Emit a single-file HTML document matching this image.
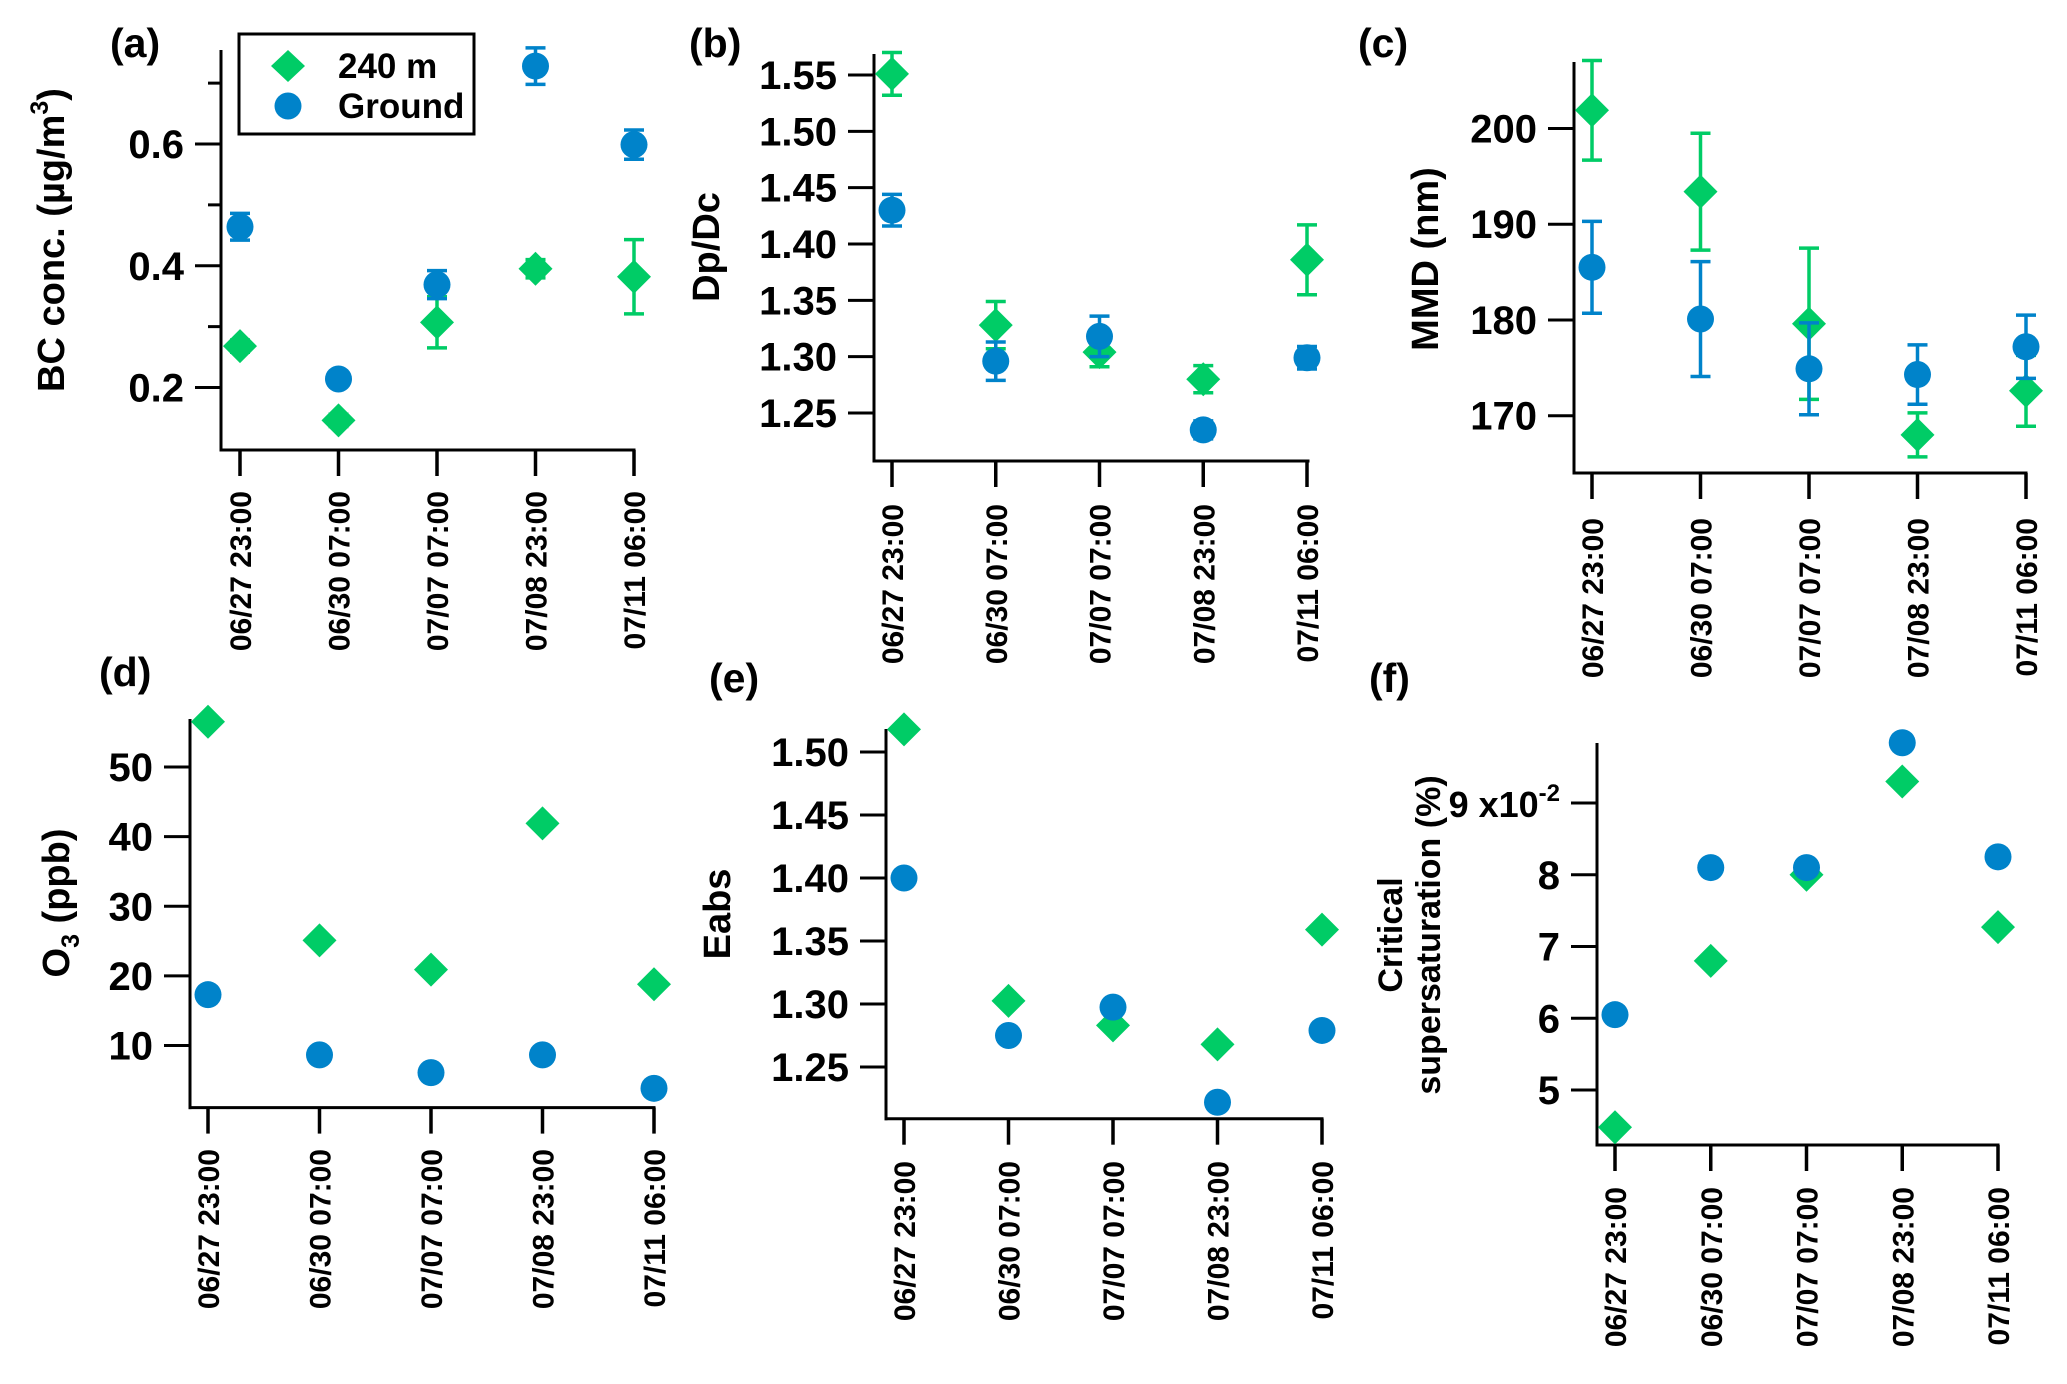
<!DOCTYPE html>
<html><head><meta charset="utf-8"><style>
html,body{margin:0;padding:0;background:#fff;}
svg{display:block;font-family:"Liberation Sans",Arial,sans-serif;font-weight:bold;}
</style></head><body>
<svg id="fig" width="2067" height="1384" viewBox="0 0 2067 1384" xmlns="http://www.w3.org/2000/svg"></svg>
<script>
const categories = ["06/27 23:00","06/30 07:00","07/07 07:00","07/08 23:00","07/11 06:00"];
// (a) BC conc.
const bc240 = [0.268,0.146,0.307,0.395,0.382];
const bc240Err = [0.01,0.01,0.042,0.015,0.061];
const bcGround = [0.464,0.214,0.369,0.728,0.599];
const bcGroundErr = [0.022,0,0.023,0.03,0.024];
const bcTicks = [0.2,0.4,0.6];
const bcMinor = [0.3,0.5,0.7];
// (b) Dp/Dc
const dp240 = [1.551,1.328,1.304,1.280,1.386];
const dp240Err = [0.019,0.021,0.013,0.012,0.031];
const dpGround = [1.430,1.296,1.318,1.235,1.299];
const dpGroundErr = [0.014,0.017,0.018,0.008,0.01];
const dpTicks = [1.25,1.30,1.35,1.40,1.45,1.50,1.55];
// (c) MMD
const mmd240 = [201.9,193.4,179.6,168.0,172.6];
const mmd240Err = [5.2,6.1,7.9,2.3,3.7];
const mmdGround = [185.5,180.1,174.9,174.3,177.2];
const mmdGroundErr = [4.8,6.0,4.8,3.1,3.3];
const mmdTicks = [170,180,190,200];
// (d) O3
const o3240 = [56.5,25.1,20.9,41.9,18.8];
const o3Ground = [17.3,8.65,6.1,8.65,3.85];
const o3Ticks = [10,20,30,40,50];
// (e) Eabs
const eabs240 = [1.518,1.3025,1.283,1.268,1.359];
const eabsGround = [1.400,1.275,1.2975,1.222,1.279];
const eabsTicks = [1.25,1.30,1.35,1.40,1.45,1.50];
// (f) Critical supersaturation (x10^-2)
const ss240 = [4.48,6.8,8.0,9.3,7.27];
const ssGround = [6.05,8.1,8.1,9.84,8.25];
const ssTicks = [5,6,7,8,9];

const NS="http://www.w3.org/2000/svg";
const svg=document.getElementById('fig');
const GREEN="#00CC66", BLUE="#0083CA";
function el(tag,attrs,parent){const e=document.createElementNS(NS,tag);for(const k in attrs)e.setAttribute(k,attrs[k]);(parent||svg).appendChild(e);return e;}

const panels=[
 {id:'a',label:'(a)',lx:110,ly:57,ax:221,ay:450,top:50,right:634,x0:240,x4:634,v0:0.2,p0:387.5,v1:0.6,p1:144,ticks:bcTicks,minor:bcMinor,fmt:v=>v.toFixed(1),
  g:bc240,ge:bc240Err,b:bcGround,be:bcGroundErr,dateTop:491,title:'BC conc. (µg/m',sup:'3',titleX:51,titleY:240},
 {id:'b',label:'(b)',lx:689,ly:57,ax:874,ay:461,top:54,right:1308,x0:892,x4:1307,v0:1.25,p0:413,v1:1.55,p1:75,ticks:dpTicks,minor:[],fmt:v=>v.toFixed(2),
  g:dp240,ge:dp240Err,b:dpGround,be:dpGroundErr,dateTop:504,title:'Dp/Dc',titleX:706,titleY:247},
 {id:'c',label:'(c)',lx:1358,ly:57,ax:1574,ay:473,top:62,right:2026,x0:1592,x4:2026,v0:170,p0:415.7,v1:200,p1:128.5,ticks:mmdTicks,minor:[],fmt:v=>String(v),
  g:mmd240,ge:mmd240Err,b:mmdGround,be:mmdGroundErr,dateTop:518,title:'MMD (nm)',titleX:1425,titleY:259},
 {id:'d',label:'(d)',lx:99,ly:686,ax:190,ay:1107.6,top:719,right:654,x0:208,x4:654,v0:10,p0:1045.5,v1:50,p1:767,ticks:o3Ticks,minor:[],fmt:v=>String(v),
  g:o3240,ge:null,b:o3Ground,be:null,dateTop:1149,title:'O3',titleX:56,titleY:903},
 {id:'e',label:'(e)',lx:709,ly:692,ax:886,ay:1118.7,top:729,right:1322,x0:904,x4:1322,v0:1.25,p0:1067,v1:1.50,p1:752,ticks:eabsTicks,minor:[],fmt:v=>v.toFixed(2),
  g:eabs240,ge:null,b:eabsGround,be:null,dateTop:1161,title:'Eabs',titleX:717,titleY:914},
 {id:'f',label:'(f)',lx:1369,ly:692,ax:1597,ay:1145,top:743,right:1998,x0:1615,x4:1998,v0:5,p0:1090,v1:9,p1:803,ticks:ssTicks,minor:[],fmt:v=>String(v),
  g:ss240,ge:null,b:ssGround,be:null,dateTop:1187,title:'crit',titleX:1390,titleY:935}
];

panels.forEach(p=>{
  const grp=el('g',{});
  
  
  const yS=v=>p.p0+(v-p.v0)*(p.p1-p.p0)/(p.v1-p.v0);
  const xS=i=>p.x0+i*(p.x4-p.x0)/(categories.length-1);
  const pl=el('text',{x:p.lx,y:p.ly,'font-size':41},grp);pl.textContent=p.label;
  
  
  const ya=el('line',{x1:p.ax,y1:p.top,x2:p.ax,y2:p.ay+1.5,stroke:'#000','stroke-width':3},grp);
  
  
  const xa=el('line',{x1:p.ax-1.5,y1:p.ay,x2:p.right+1.5,y2:p.ay,stroke:'#000','stroke-width':3},grp);
  
  
  p.ticks.forEach(v=>{
    const y=yS(v);
    el('line',{x1:p.ax-26,y1:y,x2:p.ax,y2:y,stroke:'#000','stroke-width':3},grp);
    const t=el('text',{x:p.ax-37,y:y+14,'font-size':40,'text-anchor':'end'},grp);
    
    
    if(p.id==='f'&&v===9){t.setAttribute('font-size',36);t.textContent='9 x10';const s=el('tspan',{dy:-16,'font-size':24},t);s.textContent='-2';}
    else t.textContent=p.fmt(v);
  });
  p.minor.forEach(v=>{const y=yS(v);el('line',{x1:p.ax-13,y1:y,x2:p.ax,y2:y,stroke:'#000','stroke-width':3},grp);});
  categories.forEach((c,i)=>{
    const x=xS(i);
    el('line',{x1:x,y1:p.ay,x2:x,y2:p.ay+26,stroke:'#000','stroke-width':3.5},grp);
    const t=el('text',{x:0,y:0,'font-size':30,'text-anchor':'end',transform:`translate(${x+11},${p.dateTop}) rotate(-90)`},grp);
    t.textContent=c;
    
    
  });
  let tt;
  if(p.id==='f'){
    tt=el('text',{'font-size':34,'text-anchor':'middle',transform:`translate(${p.titleX+12},${p.titleY}) rotate(-90)`},grp);tt.textContent='Critical';
    const t2=el('text',{'font-size':34,'text-anchor':'middle',transform:`translate(${p.titleX+50},${p.titleY}) rotate(-90)`},grp);t2.textContent='supersaturation (%)';
    t2.setAttribute('transform',`translate(${1440},${p.titleY}) rotate(-90)`);
    
    
  } else {
    tt=el('text',{'font-size':38,'text-anchor':'middle',transform:`translate(${p.titleX+13},${p.titleY}) rotate(-90)`},grp);
    if(p.id==='d'){tt.textContent='O';const s=el('tspan',{dy:10,'font-size':25},tt);s.textContent='3';const s2=el('tspan',{dy:-10},tt);s2.textContent=' (ppb)';}
    else if(p.sup){tt.textContent=p.title;const s=el('tspan',{dy:-16,'font-size':25},tt);s.textContent=p.sup;const s2=el('tspan',{dy:16},tt);s2.textContent=')';}
    else tt.textContent=p.title;
  }
  
  
  function errbar(x,v,e,col){
    if(!e)return;
    const y1=yS(v+e),y2=yS(v-e);
    el('line',{x1:x,y1:y1,x2:x,y2:y2,stroke:col,'stroke-width':3.5},grp);
    el('line',{x1:x-10,y1:y1,x2:x+10,y2:y1,stroke:col,'stroke-width':3.5},grp);
    el('line',{x1:x-10,y1:y2,x2:x+10,y2:y2,stroke:col,'stroke-width':3.5},grp);
  }
  p.g.forEach((v,i)=>{
    const x=xS(i),y=yS(v);
    errbar(x,v,p.ge&&p.ge[i],GREEN);
    const d=el('polygon',{points:`${x},${y-17} ${x+17},${y} ${x},${y+17} ${x-17},${y}`,fill:GREEN},grp);
    
    
  });
  p.b.forEach((v,i)=>{
    const x=xS(i),y=yS(v);
    errbar(x,v,p.be&&p.be[i],BLUE);
    const c=el('circle',{cx:x,cy:y,r:13.5,fill:BLUE},grp);
    
    
  });
});
const lg=el('g',{});


el('rect',{x:239,y:34,width:235,height:100,fill:'#fff',stroke:'#000','stroke-width':3},lg);
el('polygon',{points:'288,50 305,66 288,82 271,66',fill:GREEN},lg);
el('circle',{cx:288,cy:106,r:13.5,fill:BLUE},lg);
const l1=el('text',{x:338,y:78,'font-size':35},lg);l1.textContent='240 m';


const l2=el('text',{x:338,y:118,'font-size':35},lg);l2.textContent='Ground';


</script>
</body></html>
